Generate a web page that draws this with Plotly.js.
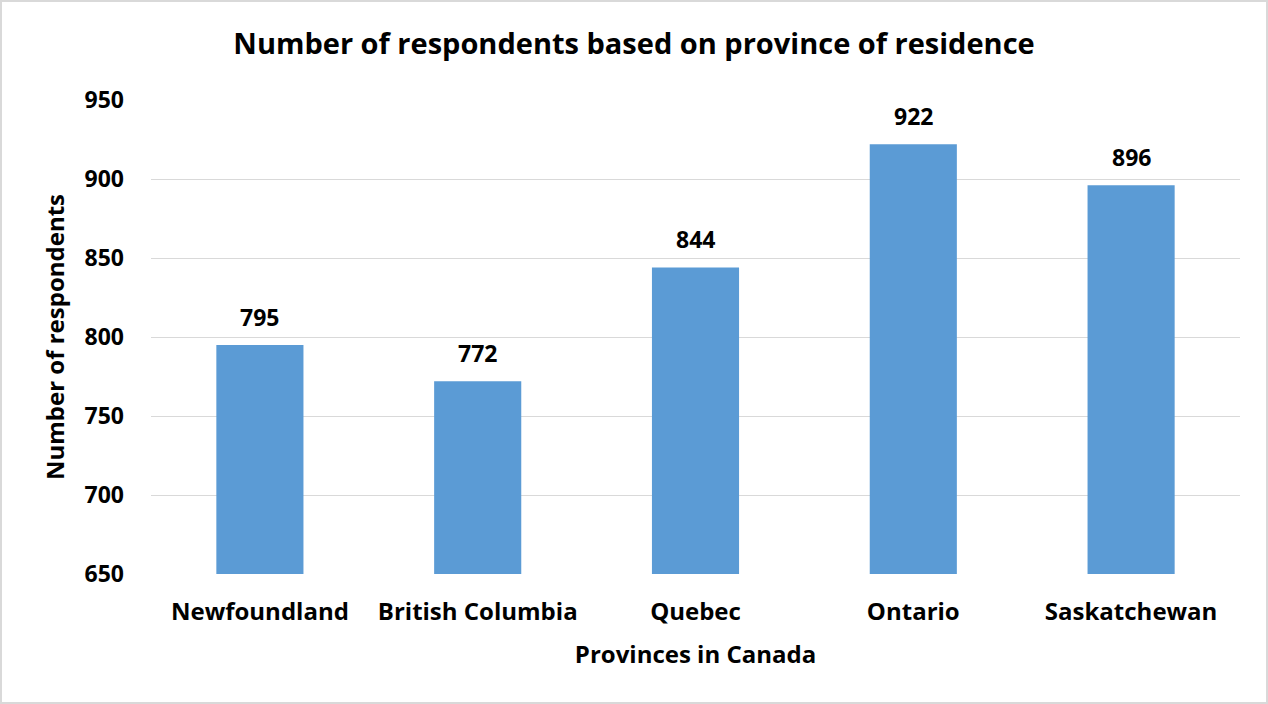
<!DOCTYPE html>
<html><head><meta charset="utf-8">
<script src="https://cdn.plot.ly/plotly-3.0.1.min.js"></script>
<style>html,body{margin:0;padding:0;background:#fff}#chart{width:1268px;height:704px;box-sizing:border-box;border:2px solid #D9D9D9}</style>
</head><body><div id="chart"></div>
<script>
const provinces = ["Newfoundland", "British Columbia", "Quebec", "Ontario", "Saskatchewan"];
const respondents = [795, 772, 844, 922, 896];
const yTicks = [650, 700, 750, 800, 850, 900, 950];

const fontFam = "'Open Sans', sans-serif";
const labels = provinces.map((p, i) => ({
  x: p, y: respondents[i], xref: "x", yref: "y",
  text: "<b>" + respondents[i] + "</b>", showarrow: false,
  yanchor: "bottom", yshift: 10,
  font: {family: fontFam, size: 23, color: "#000"}
}));

Plotly.newPlot("chart", [{
  type: "bar",
  x: provinces,
  y: respondents,
  marker: {color: "#5B9BD5"},
  hoverinfo: "none"
}], {
  width: 1264, height: 700,
  margin: {l: 149, r: 26, t: 98, b: 128},
  paper_bgcolor: "#fff", plot_bgcolor: "#fff",
  bargap: 0.6,
  annotations: labels,
  title: {text: "<b>Number of respondents based on province of residence</b>", x: 0.5, xanchor: "center", y: 0.94, yanchor: "middle",
    font: {family: fontFam, size: 29, color: "#000"}},
  xaxis: {title: {text: "<b>Provinces in Canada</b>", font: {family: fontFam, size: 24, color: "#000"}, standoff: 20},
    tickfont: {family: fontFam, size: 24, color: "#000", weight: "bold"}, showline: false, ticks: "", ticklabelstandoff: 21},
  yaxis: {title: {text: "<b>Number of respondents</b>", font: {family: fontFam, size: 24, color: "#000"}, standoff: 13},
    range: [650, 950], tickvals: yTicks, ticktext: yTicks.map(String),
    tickfont: {family: fontFam, size: 23, color: "#000", weight: "bold"},
    gridcolor: "#D9D9D9", gridwidth: 1, zeroline: false, showline: false, ticks: "", ticklabelstandoff: 26},
  showlegend: false
}, {displayModeBar: false, staticPlot: true});
</script></body></html>
